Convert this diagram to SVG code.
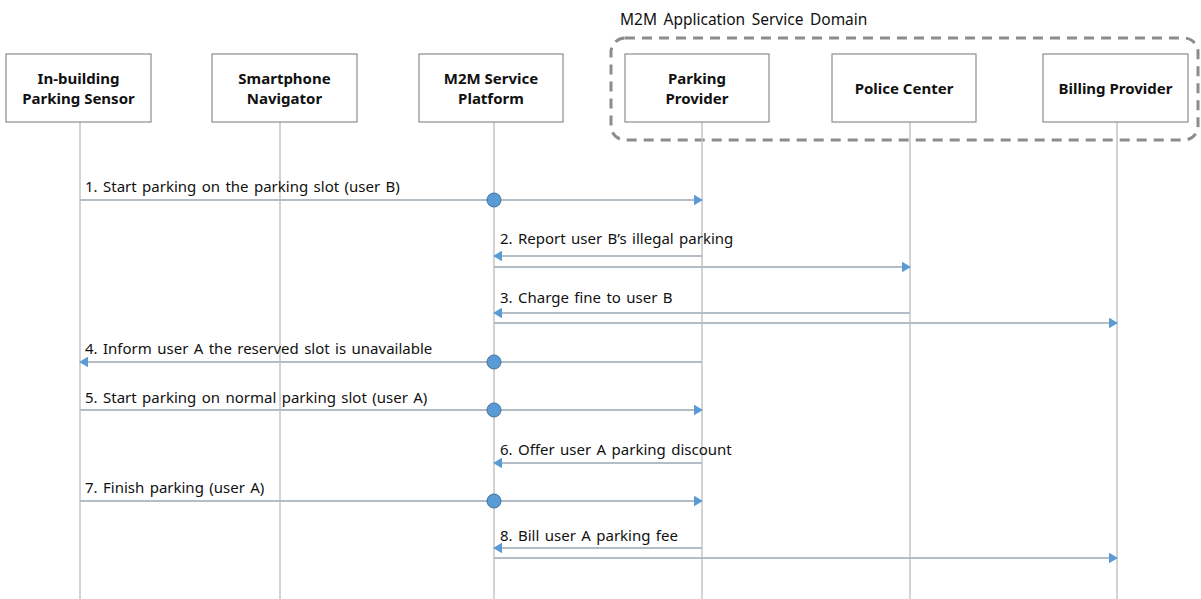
<svg xmlns="http://www.w3.org/2000/svg" width="1201" height="599" viewBox="0 0 1201 599">
<style>
.box{fill:#fff;stroke:#8c8c8c;stroke-width:1.2}
.bt{font-family:"Noto Sans","Liberation Sans",sans-serif;font-size:15px;font-weight:bold;fill:#111;text-anchor:middle}
.life{stroke:#c4c4c4;stroke-width:1.5;fill:none}
.msg{stroke:#b4bcc6;stroke-width:2;fill:none}
.lbl{font-family:"Noto Sans","Liberation Sans",sans-serif;font-size:15px;word-spacing:1.5px;fill:#111}
.dot{fill:#5b9bd5;stroke:#41719c;stroke-width:1}
</style>
<defs>
<marker id="arr" viewBox="0 0 10 12" refX="9" refY="6" markerWidth="9" markerHeight="11" orient="auto" markerUnits="userSpaceOnUse">
<path d="M0,0 L10,6 L0,12 z" fill="#5b9bd5"/>
</marker>
</defs>
<rect width="1201" height="599" fill="#fff"/>
<g id="domain">
<rect x="611" y="38" width="587" height="102" rx="14" ry="14" fill="none" stroke="#8c8c8c" stroke-width="3" stroke-dasharray="10,7"/>
<text x="620" y="25" class="lbl" style="font-size:15.5px;word-spacing:2.5px">M2M Application Service Domain</text>
</g>
<g id="lifelines">
<line class="life" x1="80" y1="122" x2="80" y2="599"/>
<line class="life" x1="280" y1="122" x2="280" y2="599"/>
<line class="life" x1="494" y1="122" x2="494" y2="599"/>
<line class="life" x1="702" y1="122" x2="702" y2="599"/>
<line class="life" x1="910" y1="122" x2="910" y2="599"/>
<line class="life" x1="1117" y1="122" x2="1117" y2="599"/>
</g>
<g id="n1"><rect class="box" x="6" y="54" width="145" height="68"/><text class="bt" x="78.5" y="84">In-building</text><text class="bt" x="78.5" y="104">Parking Sensor</text></g>
<g id="n2"><rect class="box" x="212" y="54" width="145" height="68"/><text class="bt" x="284.5" y="84">Smartphone</text><text class="bt" x="284.5" y="104">Navigator</text></g>
<g id="n3"><rect class="box" x="419" y="54" width="144" height="68"/><text class="bt" x="491" y="84">M2M Service</text><text class="bt" x="491" y="104">Platform</text></g>
<g id="n4"><rect class="box" x="625" y="54" width="144" height="68"/><text class="bt" x="697" y="84">Parking</text><text class="bt" x="697" y="104">Provider</text></g>
<g id="n5"><rect class="box" x="832" y="54" width="144" height="68"/><text class="bt" x="904" y="94">Police Center</text></g>
<g id="n6"><rect class="box" x="1043" y="54" width="145" height="68"/><text class="bt" x="1115.5" y="94">Billing Provider</text></g>
<g id="connectors">
<line class="msg" x1="80" y1="200" x2="702" y2="200" marker-end="url(#arr)"/>
<circle class="dot" cx="494" cy="200" r="7"/>
<text class="lbl" x="85" y="192">1. Start parking on the parking slot (user B)</text>

<line class="msg" x1="702" y1="256" x2="494" y2="256" marker-end="url(#arr)"/>
<line class="msg" x1="494" y1="267" x2="910" y2="267" marker-end="url(#arr)"/>
<text class="lbl" x="500" y="244">2. Report user B’s illegal parking</text>

<line class="msg" x1="910" y1="313" x2="494" y2="313" marker-end="url(#arr)"/>
<line class="msg" x1="494" y1="323" x2="1117" y2="323" marker-end="url(#arr)"/>
<text class="lbl" x="500" y="303">3. Charge fine to user B</text>

<line class="msg" x1="702" y1="362" x2="80" y2="362" marker-end="url(#arr)"/>
<circle class="dot" cx="494" cy="362" r="7"/>
<text class="lbl" x="85" y="354">4. Inform user A the reserved slot is unavailable</text>

<line class="msg" x1="80" y1="410" x2="702" y2="410" marker-end="url(#arr)"/>
<circle class="dot" cx="494" cy="410" r="7"/>
<text class="lbl" x="85" y="403">5. Start parking on normal parking slot (user A)</text>

<line class="msg" x1="702" y1="463" x2="494" y2="463" marker-end="url(#arr)"/>
<text class="lbl" x="500" y="455">6. Offer user A parking discount</text>

<line class="msg" x1="80" y1="501" x2="702" y2="501" marker-end="url(#arr)"/>
<circle class="dot" cx="494" cy="501" r="7"/>
<text class="lbl" x="85" y="493">7. Finish parking (user A)</text>

<line class="msg" x1="702" y1="548" x2="494" y2="548" marker-end="url(#arr)"/>
<line class="msg" x1="494" y1="558" x2="1117" y2="558" marker-end="url(#arr)"/>
<text class="lbl" x="500" y="541">8. Bill user A parking fee</text>
</g>
</svg>
